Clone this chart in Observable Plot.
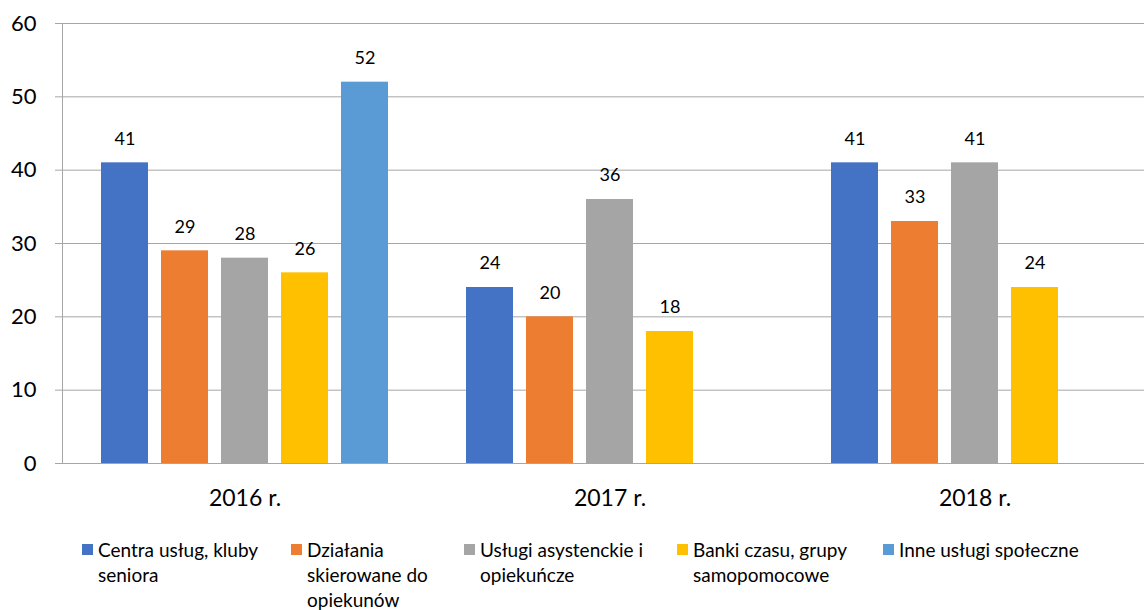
<!DOCTYPE html>
<html>
<head>
<meta charset="utf-8">
<script src="https://cdn.jsdelivr.net/npm/d3@7"></script>
<script src="https://cdn.jsdelivr.net/npm/@observablehq/plot@0.6"></script>
<style>
  html, body { margin: 0; padding: 0; background: #fff; overflow: hidden; }
  #wrap { position: relative; width: 1144px; height: 610px; overflow: hidden; font-family: Lato, "Open Sans", sans-serif; color: #000; }
  #chart { position: absolute; left: 0; top: 0; width: 1157px; }
  #chart svg { max-width: none !important; }
  .item { position: absolute; top: 537px; display: flex; align-items: flex-start; font-size: 19px; line-height: 25px; }
  .sw { width: 11px; height: 11px; margin-top: 7px; margin-right: 5px; flex: none; }
  .lbl { white-space: pre-line; }
</style>
</head>
<body>
<div id="wrap">
  <div id="chart"></div>
  <div id="legend"></div>
</div>
<script>
// Groups (years) and series
const years = ["2016 r.", "2017 r.", "2018 r."];
const series = [
  "Centra usług, kluby seniora",
  "Działania skierowane do opiekunów",
  "Usługi asystenckie i opiekuńcze",
  "Banki czasu, grupy samopomocowe",
  "Inne usługi społeczne"
];
// Legend labels, wrapped as displayed
const legendLabels = [
  "Centra usług, kluby\nseniora",
  "Działania\nskierowane do\nopiekunów",
  "Usługi asystenckie i\nopiekuńcze",
  "Banki czasu, grupy\nsamopomocowe",
  "Inne usługi społeczne"
];
const colors = ["#4472C4", "#ED7D31", "#A5A5A5", "#FFC000", "#5B9BD5"];

// Values per series, one per year (null = no bar)
const centra    = [41, 24, 41];
const dzialania = [29, 20, 33];
const uslugi    = [28, 36, 41];
const banki     = [26, 18, 24];
const inne      = [52, null, null];

const yTicks = [0, 10, 20, 30, 40, 50, 60];

const valuesBySeries = [centra, dzialania, uslugi, banki, inne];
const rows = [];
valuesBySeries.forEach((vals, si) => {
  vals.forEach((v, yi) => {
    if (v != null) rows.push({year: years[yi], series: series[si], value: v});
  });
});

const chart = Plot.plot({
  width: 1157,
  height: 530,
  marginLeft: 62,
  marginRight: 0,
  marginTop: 23,
  marginBottom: 67,
  style: {fontFamily: "Lato, 'Open Sans', sans-serif", color: "#000", background: "transparent", maxWidth: "none"},
  fx: {domain: years, padding: 0, label: null},
  x: {domain: series, paddingInner: 0.21, paddingOuter: 0.6, axis: null},
  y: {domain: [0, 60], axis: null},
  color: {domain: series, range: colors},
  marks: [
    Plot.ruleY(yTicks, {stroke: "#a6a6a6", strokeWidth: 1}),
    Plot.frame({anchor: "left", facetAnchor: "left", stroke: "#a6a6a6"}),
    Plot.axisY({
      ticks: yTicks, tickSize: 7, tickPadding: 19, fontSize: 22,
      stroke: "#a6a6a6", fill: "#000", anchor: "left", facetAnchor: "left",
      tickFormat: d => String(d), label: null
    }),
    Plot.barY(rows, {fx: "year", x: "series", y: "value", fill: "series"}),
    Plot.text(rows, {fx: "year", x: "series", y: "value", text: "value", dy: -24, fontSize: 18, fill: "#000"}),
    Plot.axisFx({anchor: "bottom", tickSize: 0, tickPadding: 26, fontSize: 23, fill: "#000", label: null})
  ]
});
document.getElementById("chart").appendChild(chart);

// Legend below the chart
const legendLeft = [82, 291, 464, 677, 883];
const legend = document.getElementById("legend");
series.forEach((s, i) => {
  const item = document.createElement("div");
  item.className = "item";
  item.style.left = legendLeft[i] + "px";
  const sw = document.createElement("div");
  sw.className = "sw";
  sw.style.background = colors[i];
  const lbl = document.createElement("div");
  lbl.className = "lbl";
  lbl.textContent = legendLabels[i];
  item.appendChild(sw);
  item.appendChild(lbl);
  legend.appendChild(item);
});
</script>
</body>
</html>
